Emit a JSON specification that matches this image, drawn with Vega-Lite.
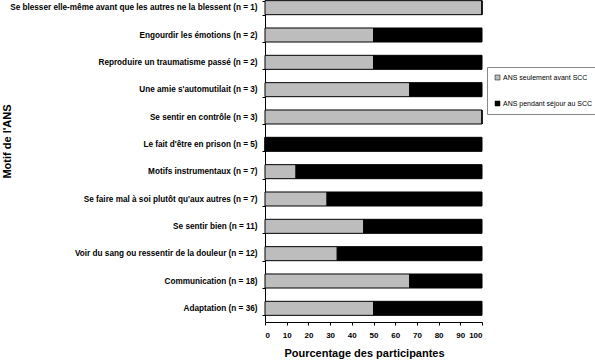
{
  "$schema": "https://vega.github.io/schema/vega-lite/v6.json",
  "width": 217,
  "height": 328,
  "autosize": "none",
  "padding": {"left": 265, "top": -6, "right": 113, "bottom": 41},
  "background": "white",
  "config": {"font": "Liberation Sans", "view": {"stroke": null}},
  "data": {"values": [
    {"motif": "Se blesser elle-même avant que les autres ne la blessent (n = 1)", "groupe": "ANS seulement avant SCC", "ord": 1, "pct": 100},
    {"motif": "Se blesser elle-même avant que les autres ne la blessent (n = 1)", "groupe": "ANS pendant  séjour au SCC", "ord": 2, "pct": 0},
    {"motif": "Engourdir les émotions (n = 2)", "groupe": "ANS seulement avant SCC", "ord": 1, "pct": 50},
    {"motif": "Engourdir les émotions (n = 2)", "groupe": "ANS pendant  séjour au SCC", "ord": 2, "pct": 50},
    {"motif": "Reproduire un traumatisme passé (n = 2)", "groupe": "ANS seulement avant SCC", "ord": 1, "pct": 50},
    {"motif": "Reproduire un traumatisme passé (n = 2)", "groupe": "ANS pendant  séjour au SCC", "ord": 2, "pct": 50},
    {"motif": "Une amie s'automutilait (n = 3)", "groupe": "ANS seulement avant SCC", "ord": 1, "pct": 66.7},
    {"motif": "Une amie s'automutilait (n = 3)", "groupe": "ANS pendant  séjour au SCC", "ord": 2, "pct": 33.3},
    {"motif": "Se sentir en contrôle (n = 3)", "groupe": "ANS seulement avant SCC", "ord": 1, "pct": 100},
    {"motif": "Se sentir en contrôle (n = 3)", "groupe": "ANS pendant  séjour au SCC", "ord": 2, "pct": 0},
    {"motif": "Le fait d'être en prison (n = 5)", "groupe": "ANS seulement avant SCC", "ord": 1, "pct": 0},
    {"motif": "Le fait d'être en prison (n = 5)", "groupe": "ANS pendant  séjour au SCC", "ord": 2, "pct": 100},
    {"motif": "Motifs instrumentaux (n = 7)", "groupe": "ANS seulement avant SCC", "ord": 1, "pct": 14.3},
    {"motif": "Motifs instrumentaux (n = 7)", "groupe": "ANS pendant  séjour au SCC", "ord": 2, "pct": 85.7},
    {"motif": "Se faire mal à soi plutôt qu'aux autres (n = 7)", "groupe": "ANS seulement avant SCC", "ord": 1, "pct": 28.6},
    {"motif": "Se faire mal à soi plutôt qu'aux autres (n = 7)", "groupe": "ANS pendant  séjour au SCC", "ord": 2, "pct": 71.4},
    {"motif": "Se sentir bien (n = 11)", "groupe": "ANS seulement avant SCC", "ord": 1, "pct": 45.5},
    {"motif": "Se sentir bien (n = 11)", "groupe": "ANS pendant  séjour au SCC", "ord": 2, "pct": 54.5},
    {"motif": "Voir du sang ou ressentir de la douleur (n = 12)", "groupe": "ANS seulement avant SCC", "ord": 1, "pct": 33.3},
    {"motif": "Voir du sang ou ressentir de la douleur (n = 12)", "groupe": "ANS pendant  séjour au SCC", "ord": 2, "pct": 66.7},
    {"motif": "Communication (n = 18)", "groupe": "ANS seulement avant SCC", "ord": 1, "pct": 66.7},
    {"motif": "Communication (n = 18)", "groupe": "ANS pendant  séjour au SCC", "ord": 2, "pct": 33.3},
    {"motif": "Adaptation (n = 36)", "groupe": "ANS seulement avant SCC", "ord": 1, "pct": 50},
    {"motif": "Adaptation (n = 36)", "groupe": "ANS pendant  séjour au SCC", "ord": 2, "pct": 50}
  ]},
  "mark": {"type": "bar", "stroke": "black", "strokeWidth": 1},
  "encoding": {
    "y": {
      "field": "motif", "type": "nominal", "sort": null,
      "scale": {"paddingInner": 0.487, "paddingOuter": 0.2435},
      "axis": {
        "title": "Motif  de l'ANS", "titleFont": "Liberation Sans", "titleFontSize": 11, "titleFontWeight": "bold",
        "titleColor": "black", "titleX": -253, "titleY": 147, "titleAngle": -90, "titleBaseline": "bottom",
        "labelFontSize": 8.2, "labelFontWeight": "bold", "labelColor": "black", "labelPadding": 5, "labelLimit": 300,
        "tickBand": "extent", "tickSize": 3, "tickColor": "black", "domainColor": "black", "grid": false
      }
    },
    "x": {
      "field": "pct", "type": "quantitative", "stack": "zero",
      "scale": {"domain": [0, 100], "nice": false},
      "axis": {
        "title": "Pourcentage des participantes", "titleFontSize": 11, "titleFontWeight": "bold", "titleColor": "black",
        "titlePadding": 8, "titleX": 99,
        "values": [0, 10, 20, 30, 40, 50, 60, 70, 80, 90, 100], "labelFontSize": 8, "labelFontWeight": "bold",
        "labelColor": "black", "labelPadding": 6, "tickSize": 3, "tickColor": "black", "domainColor": "black", "grid": false
      }
    },
    "color": {
      "field": "groupe", "type": "nominal",
      "scale": {"domain": ["ANS seulement avant SCC", "ANS pendant  séjour au SCC"], "range": ["#bdbdbd", "#000000"]},
      "legend": {
        "orient": "none", "legendX": 222, "legendY": 73, "title": null,
        "symbolType": "square", "symbolSize": 25, "symbolStrokeColor": "black", "symbolStrokeWidth": 0.5,
        "labelFontSize": 7, "labelColor": "black", "labelOffset": 2, "rowPadding": 18,
        "strokeColor": "#888888", "padding": 7, "fillColor": "white"
      }
    },
    "order": {"field": "ord", "type": "quantitative"}
  }
}
